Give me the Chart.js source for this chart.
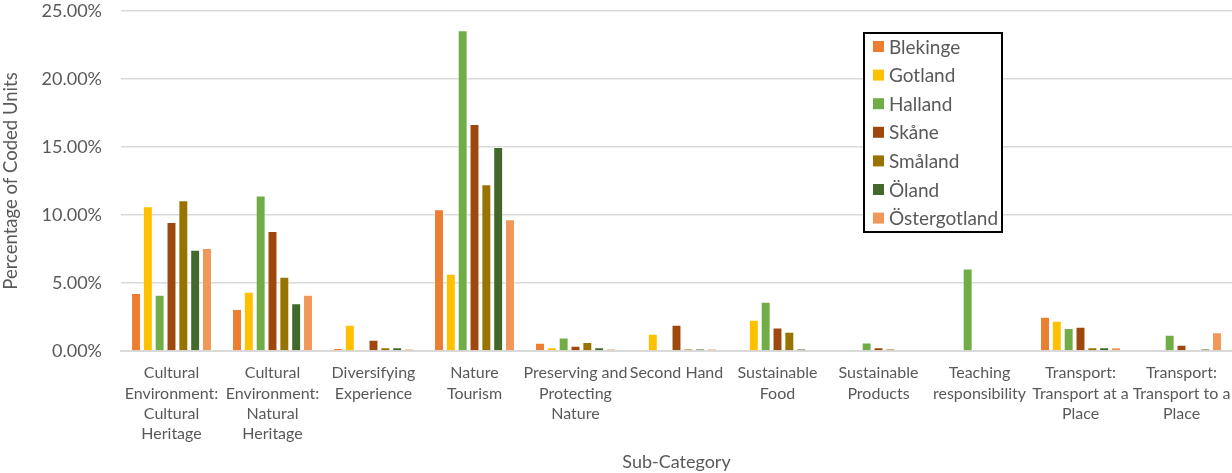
<!DOCTYPE html>
<html>
<head>
<meta charset="utf-8">
<script src="https://cdn.jsdelivr.net/npm/chart.js@4/dist/chart.umd.min.js"></script>
<style>
  html, body { margin: 0; padding: 0; background: #fff; }
  #wrap { width: 1232px; height: 473px; position: relative; }
</style>
</head>
<body>
<div id="wrap"><canvas id="c"></canvas></div>
<script>
// Sub-categories (multi-line labels)
const categories = [
  ["Cultural", "Environment:", "Cultural", "Heritage"],
  ["Cultural", "Environment:", "Natural", "Heritage"],
  ["Diversifying", "Experience"],
  ["Nature", "Tourism"],
  ["Preserving and", "Protecting", "Nature"],
  ["Second Hand"],
  ["Sustainable", "Food"],
  ["Sustainable", "Products"],
  ["Teaching", "responsibility"],
  ["Transport:", "Transport at a", "Place"],
  ["Transport:", "Transport to a", "Place"]
];

// Share of coded units per region (%)
const blekinge     = [4.26, 3.08, 0.22, 10.43, 0.61, 0,    0,    0,    0,    2.52, 0];
const gotland      = [10.65, 4.35, 1.93, 5.68, 0.27, 1.27, 2.30, 0,    0,    2.22, 0];
const halland      = [4.13, 11.43, 0,    23.59, 1.00, 0,    3.62, 0.63, 6.07, 1.69, 1.20];
const skane        = [9.49, 8.83, 0.83, 16.69, 0.39, 1.93, 1.73, 0.27, 0,    1.78, 0.46];
const smaland      = [11.09, 5.46, 0.27, 12.26, 0.66, 0.15, 1.42, 0.15, 0,    0.27, 0];
const oland        = [7.44, 3.52, 0.27, 15.00, 0.27, 0.15, 0.15, 0,    0,    0.27, 0.15];
const ostergotland = [7.58, 4.13, 0.17, 9.69, 0.15, 0.17, 0,    0,    0,    0.27, 1.37];

const seriesNames = ["Blekinge", "Gotland", "Halland", "Skåne", "Småland", "Öland", "Östergotland"];
const seriesColors = ["#ED7D31", "#FFC000", "#70AD47", "#9E480E", "#997300", "#43682B", "#F1975A"];
const seriesValues = [blekinge, gotland, halland, skane, smaland, oland, ostergotland];

const yTicks = [0, 5, 10, 15, 20, 25];

const FONT = "Lato, 'Open Sans', sans-serif";
const TEXT = "#595959";

// Boxed legend drawn inside the plot area, top right
const boxLegend = {
  id: "boxLegend",
  afterDraw(chart) {
    const ctx = chart.ctx;
    const x0 = 864, y0 = 33, w = 138, h = 199;
    ctx.save();
    ctx.fillStyle = "#fff";
    ctx.fillRect(x0, y0, w, h);
    ctx.lineWidth = 2;
    ctx.strokeStyle = "#000";
    ctx.strokeRect(x0, y0, w, h);
    ctx.font = "19px " + FONT;
    ctx.textBaseline = "middle";
    chart.data.datasets.forEach((ds, i) => {
      const cy = y0 + 13.5 + i * 28.6;
      ctx.fillStyle = ds.backgroundColor;
      ctx.fillRect(x0 + 9, cy - 5.5, 11, 11);
      ctx.fillStyle = TEXT;
      ctx.fillText(ds.label, x0 + 25, cy + 1);
    });
    ctx.restore();
  }
};

new Chart(document.getElementById("c"), {
  type: "bar",
  data: {
    labels: categories,
    datasets: seriesNames.map((name, i) => ({
      label: name,
      data: seriesValues[i],
      backgroundColor: seriesColors[i],
      borderColor: "rgba(255,255,255,0.35)",
      borderWidth: 1,
      categoryPercentage: 0.82,
      barPercentage: 0.84
    }))
  },
  options: {
    responsive: true,
    maintainAspectRatio: false,
    animation: false,
    layout: { padding: { top: 11, right: 0, bottom: 0, left: 0 } },
    plugins: {
      legend: { display: false },
      tooltip: { enabled: false }
    },
    scales: {
      x: {
        grid: { display: false, drawTicks: false },
        border: { display: true, color: "#d9d9d9", width: 2 },
        ticks: {
          color: TEXT,
          font: { family: FONT, size: 16, lineHeight: 1.27 },
          padding: 12,
          maxRotation: 0,
          autoSkip: false
        },
        title: {
          display: true,
          text: "Sub-Category",
          color: TEXT,
          font: { family: FONT, size: 18 },
          padding: { top: 4, bottom: 0 }
        },
        afterFit(scale) {
          scale.height = 473 - 351;
          scale.paddingLeft = 0;
          scale.paddingRight = 0;
        }
      },
      y: {
        min: 0,
        max: 25,
        afterBuildTicks(scale) { scale.ticks = yTicks.map(v => ({ value: v })); },
        grid: { color: "#d9d9d9", lineWidth: 1.5, drawTicks: false },
        border: { display: false },
        ticks: {
          color: TEXT,
          font: { family: FONT, size: 18 },
          padding: 19,
          callback: v => v.toFixed(2) + "%"
        },
        title: {
          display: true,
          text: "Percentage of Coded Units",
          color: TEXT,
          font: { family: FONT, size: 18.5 },
          padding: { top: 0, bottom: 0 }
        },
        afterFit(scale) {
          scale.width = 121;
          scale.paddingTop = 0;
          scale.paddingBottom = 0;
        }
      }
    }
  },
  plugins: [boxLegend]
});
</script>
</body>
</html>
